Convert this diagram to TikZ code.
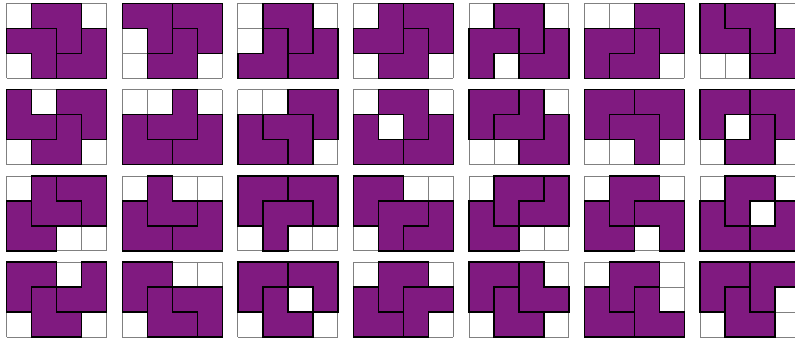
\documentclass[tikz,border=0pt]{standalone}
\usepackage{tikz}
\usepackage{xcolor}

\definecolor{tromcolor}{RGB}{128,26,128}

\tikzset{
    gridline/.style={draw=gray, line width=0.45pt},
    tromino/.style={fill=tromcolor, draw=black, line width=0.8pt, line join=miter}
}

% L-trominoes in a 2x2 box at column #1, row #2, named by the missing corner
\newcommand{\tromtl}[2]{\path[tromino] ({#1+1},#2) -- ({#1+2},#2) -- ({#1+2},{#2+2}) -- (#1,{#2+2}) -- (#1,{#2+1}) -- ({#1+1},{#2+1}) -- cycle;}
\newcommand{\tromtr}[2]{\path[tromino] (#1,#2) -- ({#1+1},#2) -- ({#1+1},{#2+1}) -- ({#1+2},{#2+1}) -- ({#1+2},{#2+2}) -- (#1,{#2+2}) -- cycle;}
\newcommand{\trombl}[2]{\path[tromino] (#1,#2) -- ({#1+2},#2) -- ({#1+2},{#2+2}) -- ({#1+1},{#2+2}) -- ({#1+1},{#2+1}) -- (#1,{#2+1}) -- cycle;}
\newcommand{\trombr}[2]{\path[tromino] (#1,#2) -- ({#1+2},#2) -- ({#1+2},{#2+1}) -- ({#1+1},{#2+1}) -- ({#1+1},{#2+2}) -- (#1,{#2+2}) -- cycle;}

% one 4x3 board: column, row, list of pieces (col/row/missing corner)
\newcommand{\tromboard}[3]{%
    \begin{scope}[shift={(#1*4.622+0.268, -#2*3.452-0.132)}, yscale=-1]
        \draw[gridline, step=1] (0,0) grid (4,3);
        \foreach \c/\r/\m in {#3} {\csname trom\m\endcsname{\c}{\r}}
    \end{scope}}

\begin{document}
\begin{tikzpicture}[x=0.5cm, y=0.5cm]
    \useasboundingbox (0,0) rectangle (31.8,-13.64);
    \clip (0,0) rectangle (31.8,-13.64);

    % first row of boards
    \tromboard{0}{0}{1/0/bl, 0/1/bl, 2/1/tl}
    \tromboard{1}{0}{0/0/bl, 2/0/bl, 1/1/tl}
    \tromboard{2}{0}{1/0/bl, 0/1/tl, 2/1/tl}
    \tromboard{3}{0}{0/0/tl, 2/0/bl, 1/1/tl}
    \tromboard{4}{0}{1/0/bl, 0/1/br, 2/1/tl}
    \tromboard{5}{0}{2/0/bl, 0/1/br, 1/1/tl}
    \tromboard{6}{0}{0/0/tr, 1/0/bl, 2/1/tl}

    % second row
    \tromboard{0}{1}{0/0/tr, 2/0/bl, 1/1/tl}
    \tromboard{1}{1}{0/1/tr, 1/0/tl, 2/1/tl}
    \tromboard{2}{1}{2/0/bl, 0/1/tr, 1/1/bl}
    \tromboard{3}{1}{1/0/bl, 0/1/tr, 2/1/tl}
    \tromboard{4}{1}{0/0/br, 1/0/tl, 2/1/tl}
    \tromboard{5}{1}{0/0/br, 2/0/bl, 1/1/bl}
    \tromboard{6}{1}{0/0/br, 2/0/bl, 1/1/tl}

    % third row
    \tromboard{0}{2}{1/0/tr, 2/0/bl, 0/1/tr}
    \tromboard{1}{2}{1/0/tr, 0/1/tr, 2/1/tl}
    \tromboard{2}{2}{0/0/br, 2/0/bl, 1/1/br}
    \tromboard{3}{2}{0/0/br, 1/1/br, 2/1/tl}
    \tromboard{4}{2}{1/0/br, 2/0/tl, 0/1/tr}
    \tromboard{5}{2}{1/0/br, 2/1/bl, 0/1/tr}
    \tromboard{6}{2}{1/0/br, 0/1/tr, 2/1/tl}

    % fourth row
    \tromboard{0}{3}{0/0/br, 2/0/tl, 1/1/tr}
    \tromboard{1}{3}{0/0/br, 1/1/tr, 2/1/bl}
    \tromboard{2}{3}{0/0/br, 2/0/bl, 1/1/tr}
    \tromboard{3}{3}{1/0/br, 0/1/tr, 2/1/br}
    \tromboard{4}{3}{0/0/br, 1/1/tr, 2/0/tr}
    \tromboard{5}{3}{1/0/br, 0/1/tr, 2/1/tr}
    \tromboard{6}{3}{0/0/br, 2/0/br, 1/1/tr}
\end{tikzpicture}
\end{document}
